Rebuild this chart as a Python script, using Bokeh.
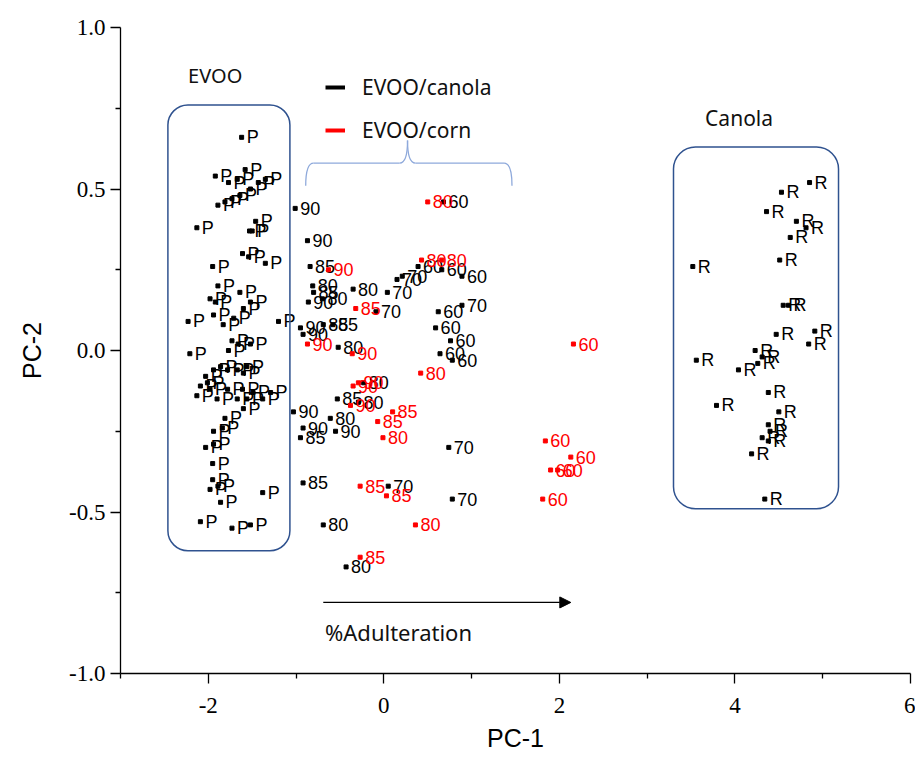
from bokeh.plotting import figure
from bokeh.models import (ColumnDataSource, FixedTicker, BoxAnnotation, Arrow,
                          NormalHead, Legend, LegendItem, Label)
from bokeh.core.properties import value
from bokeh.embed import file_html
from bokeh.resources import INLINE

# ---------------- data (PC-1, PC-2 scores) ----------------
# pure EVOO samples ("P")
evoo_x = [-1.62, -1.58, -1.92, -1.77, -1.67, -1.52, -1.43, -1.35, -1.89, -1.81,
          -1.73, -1.64, -2.13, -1.46, -1.50, -1.53, -1.61, -1.54, -1.35, -1.95,
          -1.89, -1.98, -1.64, -1.92, -2.23, -1.94, -1.83, -1.71, -1.60, -1.52,
          -1.20, -2.21, -1.73, -1.77, -1.66, -1.52, -2.03, -1.94, -1.86, -1.78,
          -1.67, -1.60, -1.56, -2.09, -2.01, -1.98, -2.13, -1.90, -1.78, -1.67,
          -1.61, -1.56, -1.49, -1.38, -1.29, -1.60, -1.81, -1.94, -1.84, -2.03,
          -1.94, -1.95, -1.95, -1.98, -1.89, -1.86, -1.38, -2.09, -1.73, -1.52]
evoo_y = [0.66, 0.56, 0.54, 0.52, 0.53, 0.50, 0.52, 0.53, 0.45, 0.46,
          0.47, 0.48, 0.38, 0.40, 0.37, 0.37, 0.30, 0.29, 0.27, 0.26,
          0.20, 0.16, 0.18, 0.15, 0.09, 0.11, 0.08, 0.10, 0.13, 0.15,
          0.09, -0.01, 0.03, 0.00, 0.02, 0.02, -0.08, -0.06, -0.05, -0.06,
          -0.06, -0.07, -0.05, -0.11, -0.10, -0.12, -0.14, -0.15, -0.12, -0.15,
          -0.12, -0.15, -0.13, -0.15, -0.13, -0.18, -0.21, -0.25, -0.24, -0.30,
          -0.29, -0.35, -0.40, -0.43, -0.42, -0.47, -0.44, -0.53, -0.55, -0.54]

# pure canola samples ("R")
rap_x = [4.53, 4.85, 4.36, 4.70, 4.81, 4.63, 4.51, 3.52, 4.55, 4.61,
         4.47, 4.91, 4.84, 3.56, 4.23, 4.31, 4.26, 4.04, 4.38, 3.79,
         4.50, 4.38, 4.40, 4.31, 4.38, 4.19, 4.34]
rap_y = [0.49, 0.52, 0.43, 0.40, 0.38, 0.35, 0.28, 0.26, 0.14, 0.14,
         0.05, 0.06, 0.02, -0.03, 0.00, -0.02, -0.04, -0.06, -0.13, -0.17,
         -0.19, -0.23, -0.25, -0.27, -0.28, -0.32, -0.46]

# EVOO/canola blends, label = % EVOO
canola_x = [-1.01, -0.87, -0.84, -0.81, -0.80, -0.86, -0.70, -0.35, 0.04, -0.09,
            0.15, 0.21, 0.39, 0.66, 0.89, 0.68, 0.89, 0.62, 0.59, 0.76,
            0.64, 0.78, -0.95, -0.92, -0.69, -0.58, -0.52, -0.23, -0.53, -0.29,
            -1.03, -0.61, -0.92, -0.95, -0.55, 0.74, -0.92, 0.05, 0.78, -0.69,
            -0.43]
canola_y = [0.44, 0.34, 0.26, 0.20, 0.18, 0.15, 0.16, 0.19, 0.18, 0.12,
            0.22, 0.23, 0.26, 0.25, 0.23, 0.46, 0.14, 0.12, 0.07, 0.03,
            -0.01, -0.03, 0.07, 0.05, 0.08, 0.08, 0.01, -0.10, -0.15, -0.16,
            -0.19, -0.21, -0.24, -0.27, -0.25, -0.30, -0.41, -0.42, -0.46, -0.54,
            -0.67]
canola_lbl = ["90", "90", "85", "80", "85", "90", "80", "80", "70", "70",
              "70", "70", "60", "60", "60", "60", "70", "60", "60", "60",
              "60", "60", "90", "90", "85", "85", "80", "80", "85", "80",
              "90", "80", "90", "85", "90", "70", "85", "70", "70", "80",
              "80"]

# EVOO/corn blends, label = % EVOO
corn_x = [0.50, -0.63, 0.43, 0.66, -0.32, -0.87, -0.36, 0.42, -0.35, -0.29,
          -0.38, 0.10, -0.07, -0.01, -0.27, 0.03, 0.36, -0.27, 1.84, 2.13,
          1.90, 1.98, 1.81, 2.16]
corn_y = [0.46, 0.25, 0.28, 0.28, 0.13, 0.02, -0.01, -0.07, -0.11, -0.10,
          -0.17, -0.19, -0.22, -0.27, -0.42, -0.45, -0.54, -0.64, -0.28, -0.33,
          -0.37, -0.37, -0.46, 0.02]
corn_lbl = ["80", "90", "80", "80", "85", "90", "90", "80", "90", "90",
            "90", "85", "85", "80", "85", "85", "80", "85", "60", "60",
            "60", "60", "60", "60"]

x_ticks = [-2, 0, 2, 4, 6]
x_tick_labels = ["-2", "0", "2", "4", "6"]
x_minor = [-3, -1, 1, 3, 5]
y_ticks = [-1.0, -0.5, 0.0, 0.5, 1.0]
y_tick_labels = ["-1.0", "-0.5", "0.0", "0.5", "1.0"]
y_minor = [-0.75, -0.25, 0.25, 0.75]

# ---------------- figure ----------------
p = figure(width=915, height=766, x_range=(-3, 6), y_range=(-1, 1),
           output_backend="svg", toolbar_location=None,
           min_border_left=120, min_border_right=5,
           min_border_top=27, min_border_bottom=93)
p.grid.visible = False
p.outline_line_color = None
p.background_fill_color = "white"

AX_FONT = "Liberation Sans"
TICK_FONT = "Liberation Sans Narrow"
for ax in (p.xaxis[0], p.yaxis[0]):
    ax.axis_line_color = "black"
    ax.axis_line_width = 1.3
    ax.major_tick_in = 0
    ax.major_tick_out = 10
    ax.minor_tick_in = 0
    ax.minor_tick_out = 5
    ax.major_tick_line_width = 1.3
    ax.minor_tick_line_width = 1.3
    ax.major_label_text_font = TICK_FONT
    ax.major_label_text_font_size = "23px"
    ax.major_label_text_color = "black"
    ax.axis_label_text_font = AX_FONT
    ax.axis_label_text_font_size = "25px"
    ax.axis_label_text_font_style = "normal"
    ax.axis_label_text_color = "black"

p.xaxis.ticker = FixedTicker(ticks=x_ticks, minor_ticks=x_minor)
p.yaxis.ticker = FixedTicker(ticks=y_ticks, minor_ticks=y_minor)
p.xaxis.major_label_overrides = dict(zip(x_ticks, x_tick_labels))
p.yaxis.major_label_overrides = dict(zip(y_ticks, y_tick_labels))
p.xaxis.axis_label = "PC-1"
p.yaxis.axis_label = "PC-2"
p.xaxis.major_label_standoff = 14
p.xaxis.axis_label_standoff = 8
p.yaxis.major_label_standoff = 5
p.yaxis.axis_label_standoff = 20

PT_FONT = value("Liberation Sans")

def plot_group(xs, ys, labels, color):
    src = ColumnDataSource(dict(x=xs, y=ys, lbl=labels))
    p.scatter("x", "y", source=src, marker="square", size=4,
              fill_color=color, line_color=color)
    p.text("x", "y", text="lbl", source=src, x_offset=5,
           text_baseline="middle", text_align="left",
           text_font=PT_FONT, text_font_size="18px", text_color=color)

plot_group(evoo_x, evoo_y, ["P"] * len(evoo_x), "black")
plot_group(rap_x, rap_y, ["R"] * len(rap_x), "black")
plot_group(canola_x, canola_y, canola_lbl, "black")
plot_group(corn_x, corn_y, corn_lbl, "#FF0000")

# ---------------- group boxes ----------------
BOX_COLOR = "#2F528F"
p.add_layout(BoxAnnotation(left=-2.46, right=-1.07, bottom=-0.62, top=0.76,
                           fill_alpha=0, line_color=BOX_COLOR, line_alpha=1,
                           line_width=1.5, border_radius=20))
p.add_layout(BoxAnnotation(left=3.30, right=5.18, bottom=-0.49, top=0.63,
                           fill_alpha=0, line_color=BOX_COLOR, line_alpha=1,
                           line_width=1.5, border_radius=22))

# ---------------- curly brace ----------------
BR = "#8EA9DB"
xl, xr, xm = -0.89, 1.46, 0.27
yb, yl, yt = 0.51, 0.58, 0.65
dx = 0.09
p.quadratic(x0=[xl, xm - dx, xm, xr - dx], y0=[yb, yl, yt, yl],
            x1=[xl + dx, xm, xm + dx, xr], y1=[yl, yt, yl, yb],
            cx=[xl, xm, xm, xr], cy=[yl, yl, yl, yl],
            line_color=BR, line_width=1.3)
p.segment(x0=[xl + dx, xm + dx], y0=[yl, yl], x1=[xm - dx, xr - dx], y1=[yl, yl],
          line_color=BR, line_width=1.3)

# ---------------- arrow ----------------
p.add_layout(Arrow(end=NormalHead(size=11, fill_color="black", line_color="black"),
                   x_start=-0.69, y_start=-0.78, x_end=2.13, y_end=-0.78,
                   line_color="black", line_width=1.2))

# ---------------- annotation texts ----------------
TXT_FONT = "Noto Sans"
for txt, tx, ty, fs in [("EVOO", -2.23, 0.85, "20px"), ("Canola", 3.66, 0.72, "21px"),
                        ("%Adulteration", -0.67, -0.87, "22px")]:
    p.add_layout(Label(x=tx, y=ty, text=txt, text_font=TXT_FONT,
                       text_font_size=fs, text_baseline="middle",
                       text_align="left", text_color="#111111"))

# ---------------- legend ----------------
nan = float("nan")
r1 = p.line([nan], [nan], line_color="black", line_width=4)
r2 = p.line([nan], [nan], line_color="#FF0000", line_width=4)
legend = Legend(items=[LegendItem(label="EVOO/canola", renderers=[r1]),
                       LegendItem(label="EVOO/corn", renderers=[r2])],
                location=(205, 529), padding=0, margin=0, spacing=15,
                glyph_width=20, glyph_height=20, label_height=20,
                label_standoff=17, border_line_alpha=0,
                background_fill_alpha=0, label_text_font=TXT_FONT,
                label_text_font_size="21px", label_text_color="#111111")
p.add_layout(legend)

open("out.html", "w").write(file_html(p, INLINE))
